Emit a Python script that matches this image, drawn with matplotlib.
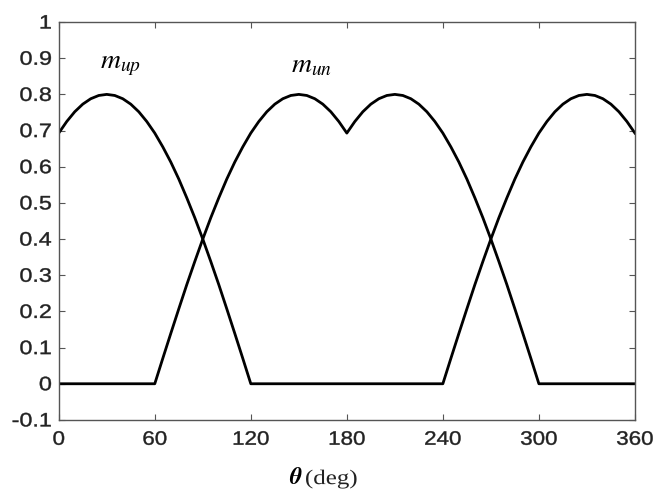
import matplotlib
matplotlib.use("Agg")
import matplotlib.pyplot as plt
from matplotlib.patheffects import AbstractPathEffect
from matplotlib.transforms import Affine2D

# Rotor angle (deg), sampled every 5 degrees
theta = list(range(0, 361, 5))

# Modulation index of the upper switch group
m_up = [0.693, 0.725, 0.752, 0.773, 0.788, 0.797, 0.800, 0.797, 0.788, 0.773,
        0.752, 0.725, 0.693, 0.655, 0.613, 0.566, 0.514, 0.459, 0.400, 0.338,
        0.274, 0.207, 0.139, 0.070, 0.000,
        0.0, 0.0, 0.0, 0.0, 0.0, 0.0, 0.0, 0.0, 0.0, 0.0, 0.0, 0.0,
        0.0, 0.0, 0.0, 0.0, 0.0, 0.0, 0.0, 0.0, 0.0, 0.0, 0.0,
        0.000, 0.070, 0.139, 0.207, 0.274, 0.338, 0.400, 0.459, 0.514, 0.566,
        0.613, 0.655, 0.693, 0.725, 0.752, 0.773, 0.788, 0.797, 0.800, 0.797,
        0.788, 0.773, 0.752, 0.725, 0.693]

# Modulation index of the lower switch group
m_un = [0.0, 0.0, 0.0, 0.0, 0.0, 0.0, 0.0, 0.0, 0.0, 0.0, 0.0, 0.0,
        0.000, 0.070, 0.139, 0.207, 0.274, 0.338, 0.400, 0.459, 0.514, 0.566,
        0.613, 0.655, 0.693, 0.725, 0.752, 0.773, 0.788, 0.797, 0.800, 0.797,
        0.788, 0.773, 0.752, 0.725, 0.693,
        0.725, 0.752, 0.773, 0.788, 0.797, 0.800, 0.797, 0.788, 0.773, 0.752,
        0.725, 0.693, 0.655, 0.613, 0.566, 0.514, 0.459, 0.400, 0.338, 0.274,
        0.207, 0.139, 0.070, 0.000,
        0.0, 0.0, 0.0, 0.0, 0.0, 0.0, 0.0, 0.0, 0.0, 0.0, 0.0, 0.0]

x_ticks = [0, 60, 120, 180, 240, 300, 360]
y_ticks = [-0.1, 0, 0.1, 0.2, 0.3, 0.4, 0.5, 0.6, 0.7, 0.8, 0.9, 1]
y_tick_labels = ["-0.1", "0", "0.1", "0.2", "0.3", "0.4", "0.5", "0.6",
                 "0.7", "0.8", "0.9", "1"]


class WideText(AbstractPathEffect):
    """Draw text glyphs widened horizontally about a chosen anchor,
    with an optional thin outline to thicken the strokes."""

    def __init__(self, sx=1.15, anchor="center", stroke=0.0):
        super().__init__()
        self.sx = sx
        self.anchor = anchor
        self.stroke = stroke

    def draw_path(self, renderer, gc, tpath, affine, rgbFace=None):
        v = tpath.vertices
        if len(v):
            x0, x1 = v[:, 0].min(), v[:, 0].max()
        else:
            x0 = x1 = 0.0
        ref = {"left": x0, "center": 0.5 * (x0 + x1), "right": x1}[self.anchor]
        t = Affine2D().translate(-ref, 0).scale(self.sx, 1).translate(ref, 0) + affine
        gc0 = renderer.new_gc()
        gc0.copy_properties(gc)
        if self.stroke > 0 and rgbFace is not None:
            gc0.set_foreground(rgbFace)
            gc0.set_linewidth(self.stroke)
            gc0.set_joinstyle("round")
        renderer.draw_path(gc0, tpath, t, rgbFace)
        gc0.restore()


plt.rcParams["mathtext.fontset"] = "stix"
plt.rcParams["font.family"] = ["Liberation Sans", "DejaVu Sans"]

fig = plt.figure(figsize=(6.6, 4.9), dpi=100)
ax = fig.add_axes([0.089, 0.143, 0.873, 0.812])

ax.plot(theta, m_up, color="black", lw=2.0, solid_joinstyle="round")
ax.plot(theta, m_un, color="black", lw=2.0, solid_joinstyle="round")

ax.set_xlim(0, 360)
ax.set_ylim(-0.1, 1)
ax.set_xticks(x_ticks)
ax.set_xticklabels([str(t) for t in x_ticks])
ax.set_yticks(y_ticks)
ax.set_yticklabels(y_tick_labels)

ax.tick_params(direction="in", top=True, right=True, length=4, width=0.8,
               labelsize=14, colors="#555555", labelcolor="#222222")
ax.tick_params(axis="x", pad=8.5)
ax.tick_params(axis="y", pad=5)
for s in ax.spines.values():
    s.set_color("#555555")
    s.set_linewidth(1.0)

for lbl in ax.get_xticklabels():
    lbl.set_path_effects([WideText(1.15, "center", stroke=0.3)])
for lbl in ax.get_yticklabels():
    lbl.set_path_effects([WideText(1.2, "right", stroke=0.3)])

ax.text(26, 0.88, r"$m_{up}$", fontsize=20, ha="left", va="center")
ax.text(145, 0.88, r"$m_{un}$", fontsize=20, ha="left", va="center")

fig.text(0.458, 0.024, r"$\boldsymbol{\theta}$", fontsize=17, ha="right", va="center")
xl = fig.text(0.462, 0.022, "(deg)", fontsize=15, ha="left", va="center",
              family=["Liberation Serif", "DejaVu Serif"], color="#222222")
xl.set_path_effects([WideText(1.2, "left")])

fig.savefig("out.png", dpi=100)
